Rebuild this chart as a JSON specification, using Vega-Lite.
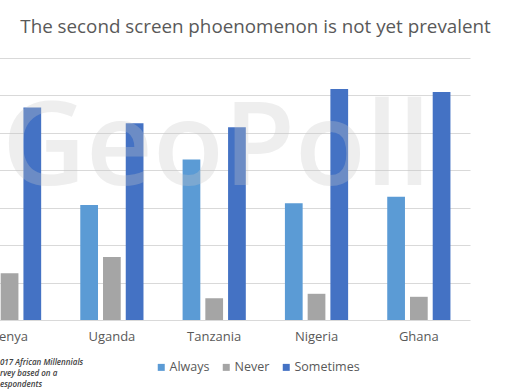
{
  "$schema": "https://vega.github.io/schema/vega-lite/v6.json",
  "width": 511,
  "height": 262,
  "autosize": {"type": "none"},
  "padding": {"top": 58, "left": 0, "right": 0, "bottom": 72},
  "background": "white",
  "title": {
    "text": "The second screen phoenomenon is not yet prevalent",
    "anchor": "middle",
    "fontSize": 18.8,
    "font": "Open Sans",
    "fontWeight": "normal",
    "color": "#595959",
    "offset": 21
  },
  "data": {
    "values": [
      {"country": "Kenya", "response": "Always", "value": 30.7},
      {"country": "Kenya", "response": "Never", "value": 12.5},
      {"country": "Kenya", "response": "Sometimes", "value": 56.8},
      {"country": "Uganda", "response": "Always", "value": 30.7},
      {"country": "Uganda", "response": "Never", "value": 16.8},
      {"country": "Uganda", "response": "Sometimes", "value": 52.6},
      {"country": "Tanzania", "response": "Always", "value": 42.9},
      {"country": "Tanzania", "response": "Never", "value": 5.8},
      {"country": "Tanzania", "response": "Sometimes", "value": 51.5},
      {"country": "Nigeria", "response": "Always", "value": 31.2},
      {"country": "Nigeria", "response": "Never", "value": 7.0},
      {"country": "Nigeria", "response": "Sometimes", "value": 61.7},
      {"country": "Ghana", "response": "Always", "value": 32.9},
      {"country": "Ghana", "response": "Never", "value": 6.2},
      {"country": "Ghana", "response": "Sometimes", "value": 60.9}
    ]
  },
  "encoding": {
    "x": {
      "field": "country",
      "type": "nominal",
      "sort": ["Kenya", "Uganda", "Tanzania", "Nigeria", "Ghana"],
      "scale": {"range": [-41.6, 470], "paddingInner": 0, "paddingOuter": 0},
      "axis": {
        "title": null,
        "ticks": false,
        "domain": false,
        "labelAngle": 0,
        "labelFont": "Open Sans",
        "labelFontSize": 13,
        "labelColor": "#595959",
        "labelPadding": 10
      }
    },
    "y": {
      "type": "quantitative",
      "scale": {"domain": [0, 70], "nice": false, "zero": true},
      "axis": {
        "title": null,
        "labels": false,
        "ticks": false,
        "domain": false,
        "values": [0, 10, 20, 30, 40, 50, 60, 70],
        "grid": true,
        "gridColor": "#d9d9d9",
        "gridWidth": 1
      }
    }
  },
  "layer": [
    {
      "mark": {"type": "bar"},
      "encoding": {
        "y": {"field": "value", "type": "quantitative"},
        "xOffset": {
          "field": "response",
          "type": "nominal",
          "scale": {"paddingInner": 0.22, "paddingOuter": 0.86}
        },
        "color": {
          "field": "response",
          "type": "nominal",
          "scale": {
            "domain": ["Always", "Never", "Sometimes"],
            "range": ["#5B9BD5", "#A5A5A5", "#4472C4"]
          },
          "legend": {
            "title": null,
            "orient": "none",
            "direction": "horizontal",
            "legendX": 155,
            "legendY": 303,
            "symbolType": "square",
            "symbolSize": 49,
            "symbolStrokeWidth": 0,
            "labelFont": "Open Sans",
            "labelFontSize": 12.5,
            "labelColor": "#595959",
            "labelOffset": 2,
            "columnPadding": 10
          }
        }
      }
    },
    {
      "data": {"values": [{"country": "Tanzania", "value": 36}]},
      "mark": {
        "type": "text",
        "text": "GeoPoll",
        "font": "Open Sans",
        "fontSize": 116,
        "fontWeight": 600,
        "fill": "#c8c8c8",
        "opacity": 0.3,
        "align": "center",
        "baseline": "alphabetic",
        "dx": 2
      },
      "encoding": {
        "x": {"field": "country", "type": "nominal"},
        "y": {"field": "value", "type": "quantitative"}
      }
    },
    {
      "data": {"values": [{"country": "Kenya", "value": -10.4}]},
      "mark": {
        "type": "text",
        "text": ["017 African Millennials", "rvey based on a", "espondents"],
        "font": "Open Sans",
        "fontSize": 8,
        "fontStyle": "italic",
        "fontWeight": 600,
        "fill": "#404040",
        "align": "left",
        "baseline": "top",
        "lineHeight": 11,
        "dx": -9.6
      },
      "encoding": {
        "x": {"field": "country", "type": "nominal"},
        "y": {"field": "value", "type": "quantitative"}
      }
    }
  ],
  "config": {
    "view": {"stroke": null}
  }
}
